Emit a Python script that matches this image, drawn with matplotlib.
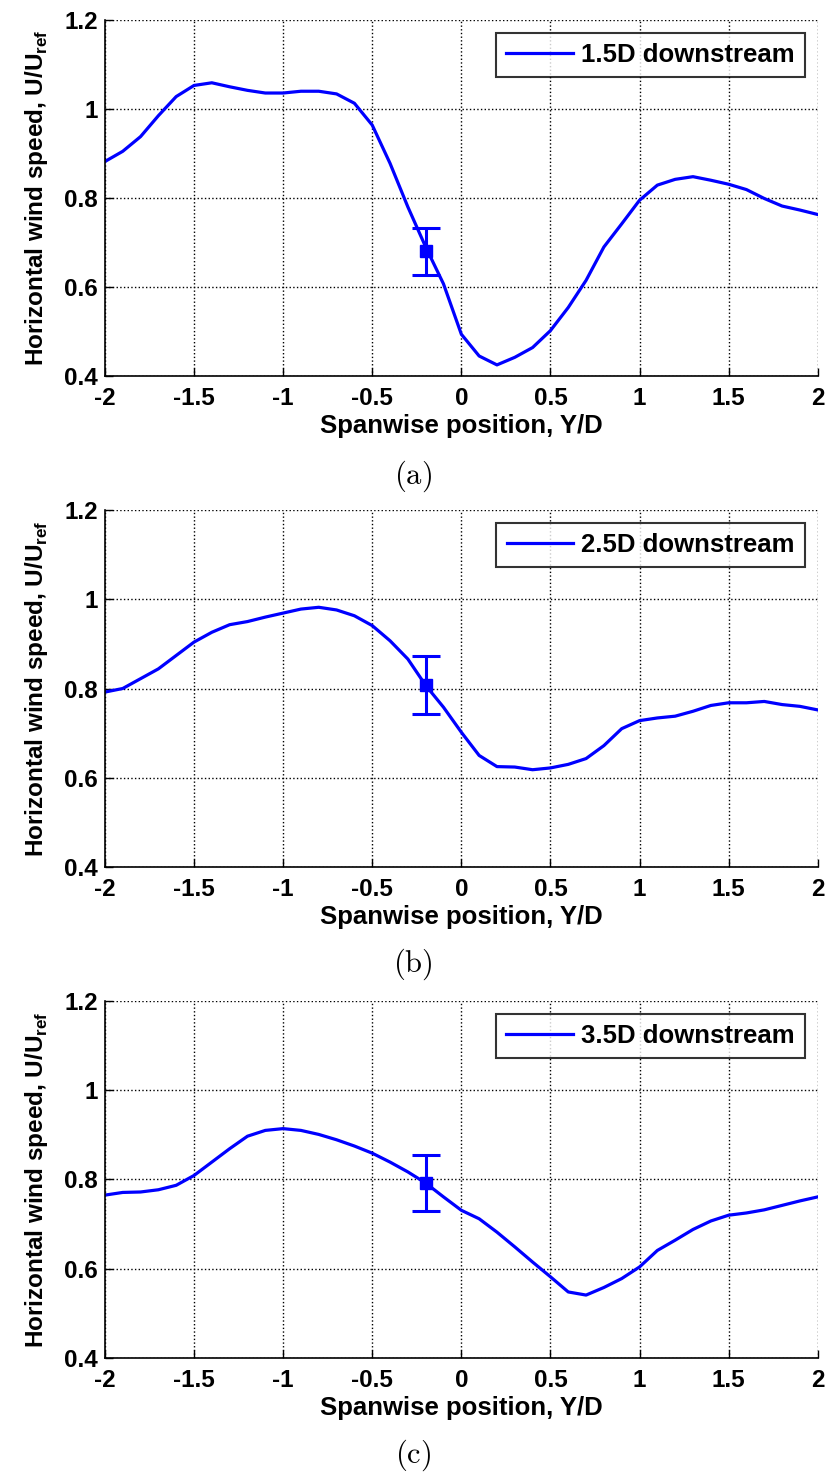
import matplotlib
matplotlib.use("Agg")
import matplotlib.pyplot as plt

# ---------------- data ----------------
y_pos = [-2.0, -1.9, -1.8, -1.7, -1.6, -1.5, -1.4, -1.3, -1.2, -1.1, -1.0,
         -0.9, -0.8, -0.7, -0.6, -0.5, -0.4, -0.3, -0.2, -0.1, 0.0,
         0.1, 0.2, 0.3, 0.4, 0.5, 0.6, 0.7, 0.8, 0.9, 1.0,
         1.1, 1.2, 1.3, 1.4, 1.5, 1.6, 1.7, 1.8, 1.9, 2.0]

speed_15D = [0.882, 0.905, 0.938, 0.985, 1.028, 1.053, 1.059, 1.050, 1.042, 1.036, 1.036,
             1.040, 1.040, 1.034, 1.013, 0.964, 0.878, 0.780, 0.690, 0.607, 0.494,
             0.445, 0.425, 0.442, 0.464, 0.502, 0.554, 0.615, 0.690, 0.742, 0.795,
             0.829, 0.842, 0.848, 0.840, 0.831, 0.819, 0.799, 0.782, 0.773, 0.763]

speed_25D = [0.792, 0.800, 0.822, 0.844, 0.874, 0.904, 0.926, 0.943, 0.950, 0.960, 0.969,
             0.978, 0.982, 0.976, 0.963, 0.941, 0.907, 0.866, 0.807, 0.758, 0.702,
             0.650, 0.625, 0.624, 0.618, 0.622, 0.630, 0.643, 0.672, 0.710, 0.728,
             0.734, 0.738, 0.749, 0.762, 0.768, 0.768, 0.771, 0.764, 0.760, 0.752]

speed_35D = [0.765, 0.771, 0.772, 0.777, 0.787, 0.809, 0.839, 0.869, 0.897, 0.910, 0.914,
             0.910, 0.901, 0.889, 0.875, 0.859, 0.839, 0.817, 0.792, 0.761, 0.731,
             0.712, 0.682, 0.649, 0.615, 0.582, 0.548, 0.541, 0.558, 0.578, 0.604,
             0.641, 0.664, 0.688, 0.707, 0.720, 0.725, 0.732, 0.742, 0.752, 0.761]

labels = ["1.5D downstream", "2.5D downstream", "3.5D downstream"]
captions = ["(a)", "(b)", "(c)"]

err_x = [-0.2, -0.2, -0.2]
err_y = [0.680, 0.808, 0.792]
err_e = [0.053, 0.065, 0.063]

xticks = [-2, -1.5, -1, -0.5, 0, 0.5, 1, 1.5, 2]
xticklabels = ["-2", "-1.5", "-1", "-0.5", "0", "0.5", "1", "1.5", "2"]
yticks = [0.4, 0.6, 0.8, 1.0, 1.2]
yticklabels = ["0.4", "0.6", "0.8", "1", "1.2"]

# ---------------- style ----------------
plt.rcParams['font.family'] = ['Liberation Sans', 'DejaVu Sans']
plt.rcParams['font.weight'] = 'bold'
plt.rcParams['axes.unicode_minus'] = False
plt.rcParams['mathtext.fontset'] = 'custom'
plt.rcParams['mathtext.rm'] = 'Liberation Sans:bold'
plt.rcParams['mathtext.bf'] = 'Liberation Sans:bold'

FS_TICK = 17.5
FS_LAB = 18.5
BLUE = (0, 0, 1)

fig = plt.figure(figsize=(8.26, 14.74), dpi=100)

positions = [
    [0.127, 0.7449, 0.863, 0.2415],
    [0.127, 0.4118, 0.863, 0.2422],
    [0.127, 0.0787, 0.863, 0.2422],
]
caption_y = [0.665, 0.334, 0.001]
series = [speed_15D, speed_25D, speed_35D]

for i in range(3):
    ax = fig.add_axes(positions[i])
    ax.plot(y_pos, series[i], color=BLUE, lw=2.3, label=labels[i])
    ax.errorbar([err_x[i]], [err_y[i]], yerr=[err_e[i]], fmt='s', color=BLUE,
                ms=8.5, capsize=10, capthick=2.2, elinewidth=2.2)
    ax.set_xlim(-2, 2)
    ax.set_ylim(0.4, 1.2)
    ax.set_xticks(xticks)
    ax.set_xticklabels(xticklabels)
    ax.set_yticks(yticks)
    ax.set_yticklabels(yticklabels)
    ax.tick_params(axis='x', direction='in', length=6, width=1, labelsize=FS_TICK, pad=8)
    ax.tick_params(axis='y', direction='in', length=6, width=1, labelsize=FS_TICK, pad=5)
    for lab in ax.get_xticklabels() + ax.get_yticklabels():
        lab.set_fontweight('bold')
    ax.grid(True, linestyle=':', color='black', linewidth=1)
    ax.spines['top'].set_visible(False)
    ax.spines['right'].set_visible(False)
    ax.spines['left'].set_linewidth(1.2)
    ax.spines['bottom'].set_linewidth(1.2)
    ax.set_xlabel("Spanwise position, Y/D", fontsize=FS_LAB, fontweight='bold', labelpad=3)
    ax.set_ylabel(r"Horizontal wind speed, U/U$_{\mathbf{ref}}$", fontsize=FS_LAB - 1,
                  fontweight='bold', labelpad=10)
    leg = ax.legend(loc='upper right', fontsize=FS_LAB, frameon=True, fancybox=False,
                    edgecolor='black', handlelength=2.6, borderaxespad=0.5,
                    borderpad=0.4, handletextpad=0.3)
    leg.get_frame().set_linewidth(1.5)
    for t in leg.get_texts():
        t.set_fontweight('bold')
    fig.text(0.5, caption_y[i], r"$\mathrm{" + captions[i] + "}$", ha='center',
             va='bottom', fontsize=22, math_fontfamily='cm')

fig.savefig("out.png", dpi=100)
